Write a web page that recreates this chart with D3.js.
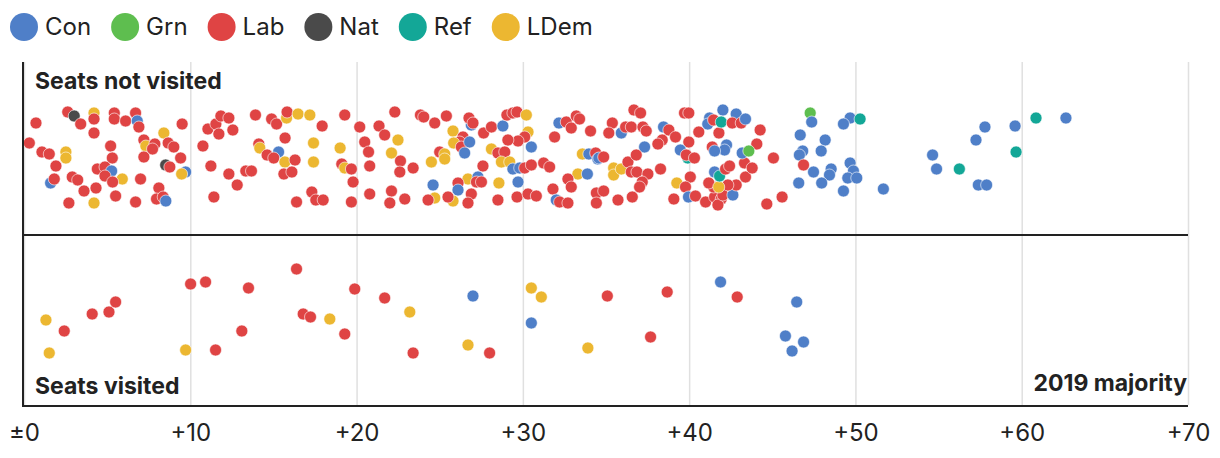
<!DOCTYPE html>
<html><head><meta charset="utf-8">
<script src="https://cdn.jsdelivr.net/npm/d3@7"></script>
<style>
html,body{margin:0;padding:0;background:#fff;}
svg{display:block;font-family:Inter,"Noto Sans",sans-serif;}
</style></head><body>
<svg id="chart" width="1220" height="458"></svg>
<script>
const parties = ["Con","Grn","Lab","Nat","Ref","LDem"];
const partyColors = ["#4f7fc8","#5ebe4f","#df4444","#4a4a4a","#13a797","#ecb731"];
const tickValues = [0,10,20,30,40,50,60,70];
const tickLabels = ["±0","+10","+20","+30","+40","+50","+60","+70"];
const bandLabels = ["Seats not visited","Seats visited"];
const axisTitle = "2019 majority";

// [party, 2019 majority (pts), vertical jitter 0-1]
const notVisited = [
["Lab",0.72,0.15],["Lab",2.63,0.04],["Nat",3.02,0.08],["LDem",4.21,0.05],["Lab",4.21,0.11],["Lab",3.41,0.16],
["Lab",5.43,0.05],["Lab",5.43,0.11],["Lab",6.11,0.13],["Lab",6.71,0.05],["Con",6.81,0.13],["Lab",6.91,0.19],
["Lab",9.51,0.16],["Lab",4.21,0.25],["Lab",0.32,0.35],["LDem",8.41,0.25],["Lab",7.21,0.32],["LDem",7.33,0.38],
["Lab",7.87,0.36],["Lab",7.73,0.41],["Lab",8.67,0.35],["Lab",9.01,0.39],["Lab",5.21,0.38],["Lab",1.08,0.44],
["Lab",1.52,0.46],["LDem",2.52,0.44],["LDem",2.52,0.50],["Lab",7.21,0.49],["Lab",5.31,0.50],["Lab",9.42,0.50],
["Lab",1.92,0.58],["Nat",8.52,0.57],["Lab",8.77,0.59],["Con",9.72,0.64],["LDem",9.48,0.66],["Lab",4.41,0.61],
["Lab",4.87,0.59],["Con",5.27,0.63],["Lab",4.87,0.68],["LDem",5.91,0.71],["Lab",5.33,0.74],["Con",1.60,0.75],
["Lab",1.82,0.71],["Lab",2.90,0.69],["Lab",3.23,0.72],["Lab",7.01,0.71],["Lab",3.61,0.83],["Lab",4.33,0.80],
["Lab",8.11,0.80],["Lab",5.51,0.88],["Lab",7.97,0.91],["Lab",8.37,0.89],["Con",8.53,0.93],["Lab",2.70,0.95],
["LDem",4.21,0.95],["Lab",6.71,0.94],
["Lab",11.06,0.21],["Lab",11.54,0.16],["Lab",11.84,0.08],["Lab",12.32,0.10],["Lab",12.56,0.22],["Lab",11.72,0.26],
["Lab",10.76,0.38],["Lab",11.24,0.58],["Lab",11.42,0.89],
["Lab",13.92,0.07],["Lab",14.89,0.11],["Lab",15.19,0.16],["LDem",15.79,0.10],["Lab",15.82,0.04],["LDem",16.48,0.06],
["LDem",17.19,0.07],["Lab",17.93,0.18],["Lab",19.29,0.07],["Lab",22.30,0.04],["Lab",20.19,0.19],["Lab",21.35,0.18],
["Lab",21.69,0.27],["LDem",22.49,0.32],["Lab",20.49,0.34],["Lab",20.72,0.44],["LDem",22.10,0.45],["Lab",22.64,0.53],
["Lab",22.60,0.64],["Lab",20.79,0.58],["Lab",15.70,0.30],["Lab",14.12,0.36],["LDem",14.18,0.40],["Con",15.31,0.44],
["Lab",14.62,0.47],["Lab",15.02,0.50],["LDem",15.69,0.54],["Lab",16.30,0.52],["LDem",17.41,0.35],["LDem",17.41,0.54],
["LDem",19.01,0.40],["Lab",19.11,0.56],["LDem",19.29,0.60],["Lab",19.69,0.61],["Lab",19.79,0.74],["Lab",12.32,0.66],
["Lab",12.82,0.77],["Lab",13.34,0.63],["Lab",13.68,0.63],["Lab",15.63,0.66],["Lab",16.11,0.64],["Lab",16.39,0.94],
["Lab",17.31,0.84],["Lab",17.55,0.92],["Lab",17.99,0.92],["Lab",19.69,0.94],["Lab",20.79,0.86],["Lab",22.10,0.83],
["Lab",22.00,0.95],["Lab",22.90,0.91],
["Lab",23.84,0.07],["Lab",24.04,0.09],["Lab",24.70,0.15],["Lab",25.40,0.08],["LDem",25.80,0.23],["Con",26.90,0.17],
["Lab",26.76,0.10],["Lab",27.00,0.15],["Lab",26.40,0.29],["Lab",26.20,0.34],["LDem",25.84,0.35],["Lab",26.30,0.39],
["Con",26.80,0.34],["Con",26.50,0.45],["Lab",27.64,0.25],["Lab",28.11,0.19],["Con",28.80,0.18],["Lab",29.04,0.07],
["Lab",29.40,0.05],["Lab",29.65,0.04],["LDem",30.21,0.07],["LDem",30.31,0.24],["Lab",30.11,0.29],["Lab",29.71,0.33],
["Lab",29.10,0.32],["Con",30.51,0.39],["Lab",25.00,0.44],["LDem",25.30,0.46],["LDem",25.30,0.51],["LDem",24.50,0.54],
["Lab",23.40,0.60],["LDem",28.11,0.41],["Lab",28.50,0.45],["Lab",28.91,0.44],["LDem",28.71,0.54],["LDem",29.21,0.54],
["Lab",27.60,0.58],["Con",29.40,0.61],["Con",29.81,0.60],["Lab",30.11,0.60],["Lab",30.51,0.57],["Lab",31.25,0.55],
["Lab",31.61,0.59],["Lab",31.91,0.29],["Con",32.17,0.15],["Lab",32.61,0.14],["Lab",32.91,0.20],["Lab",33.21,0.08],
["Lab",33.41,0.11],["Lab",34.07,0.23],["LDem",33.58,0.46],["Con",33.97,0.46],["Lab",34.38,0.45],["Con",34.51,0.51],
["LDem",33.31,0.66],["Con",33.88,0.66],["Lab",32.71,0.71],["Lab",32.91,0.79],["Lab",31.81,0.81],["Con",24.60,0.77],
["LDem",26.70,0.71],["Con",27.30,0.69],["Lab",27.21,0.74],["Lab",27.51,0.74],["Lab",26.10,0.75],["Con",26.10,0.82],
["Lab",26.90,0.86],["Lab",26.70,0.95],["LDem",25.80,0.93],["Lab",25.50,0.89],["LDem",24.70,0.90],["Lab",24.30,0.92],
["LDem",28.56,0.75],["Con",29.71,0.74],["Lab",28.50,0.92],["Lab",29.65,0.89],["Lab",30.31,0.86],["Lab",30.81,0.88],
["Con",32.01,0.92],["Lab",32.21,0.94],["Lab",32.71,0.95],["Lab",34.42,0.85],["Lab",34.42,0.95],
["Lab",35.38,0.15],["Lab",35.17,0.25],["Con",35.92,0.25],["Lab",36.18,0.19],["Lab",36.52,0.19],["Lab",36.68,0.02],
["Lab",37.08,0.05],["Lab",37.22,0.19],["Lab",37.42,0.23],["Con",38.46,0.19],["Lab",38.78,0.22],["Lab",39.18,0.29],
["Lab",38.38,0.32],["Lab",38.12,0.36],["Con",37.32,0.39],["Lab",39.72,0.05],["Lab",39.98,0.05],["Lab",40.58,0.24],
["Lab",39.98,0.34],["Con",34.57,0.50],["Lab",34.86,0.49],["LDem",35.46,0.60],["LDem",35.46,0.67],["LDem",35.92,0.61],
["Lab",36.32,0.54],["Lab",36.82,0.47],["Lab",36.52,0.64],["Lab",36.86,0.64],["Lab",37.52,0.66],["Lab",37.18,0.74],
["Lab",37.02,0.79],["Lab",38.28,0.61],["LDem",39.26,0.75],["Lab",34.86,0.83],["Lab",35.72,0.92],["Lab",36.58,0.89],
["Lab",39.08,0.91],["Con",39.47,0.42],["Ref",39.92,0.50],["Lab",39.83,0.47],["Lab",40.32,0.50],["Lab",40.07,0.69],
["Lab",39.78,0.79],["Con",39.96,0.89],["Lab",40.38,0.88],["Lab",40.99,0.94],["Lab",41.53,0.89],["Lab",41.93,0.91],
["Lab",41.73,0.97],["Lab",42.03,0.87],["Con",42.63,0.87],["Lab",42.83,0.77],["Lab",42.33,0.77],["Lab",41.47,0.79],
["Lab",41.18,0.75],["LDem",41.78,0.79],["Con",41.53,0.64],["Ref",41.83,0.68],["Lab",42.19,0.61],["Lab",42.43,0.58],
["Lab",43.39,0.69],["Lab",43.33,0.55],["Lab",43.79,0.60],["Lab",44.67,0.96],["Lab",45.59,0.89],["Lab",45.07,0.50],
["Lab",44.07,0.36],["Con",43.19,0.45],["Grn",43.59,0.43],["Con",42.25,0.37],["Con",42.13,0.42],["Lab",41.39,0.39],
["Con",41.53,0.43],["Lab",41.79,0.25],["Lab",44.27,0.22],["Con",42.03,0.02],["Con",41.23,0.10],["Con",41.12,0.16],
["Lab",41.47,0.12],["Ref",41.93,0.14],["Con",42.83,0.06],["Lab",42.59,0.15],["Lab",43.13,0.15],["Con",43.39,0.11],
["Grn",47.28,0.05],["Con",47.37,0.14],["Con",46.68,0.27],["Con",48.18,0.32],["Con",47.94,0.43],["Con",46.83,0.43],
["Con",46.63,0.47],["Lab",46.88,0.57],["Con",47.48,0.64],["Con",48.54,0.61],["Con",48.44,0.67],["Con",46.59,0.75],
["Con",47.97,0.75],["Con",49.68,0.55],["Con",49.88,0.63],["Con",49.54,0.70],["Con",50.08,0.70],["Con",49.28,0.83],
["Con",51.68,0.81],["Con",49.68,0.10],["Con",49.28,0.16],["Ref",50.28,0.11],["Con",54.64,0.47],["Con",54.88,0.61],
["Ref",56.25,0.61],["Con",57.25,0.32],["Con",57.39,0.77],["Con",57.89,0.77],["Con",57.79,0.19],["Con",59.60,0.18],
["Ref",60.86,0.10],["Con",62.66,0.10],["Ref",59.66,0.44]
];

const visited = [
["LDem",1.32,0.55],["LDem",1.52,0.88],["Lab",2.42,0.66],["Lab",4.10,0.49],["Lab",5.11,0.47],["Lab",5.51,0.37],
["LDem",9.72,0.85],["Lab",10.02,0.19],["Lab",10.92,0.17],["Lab",11.52,0.85],["Lab",13.10,0.66],["Lab",13.50,0.23],
["Lab",16.39,0.04],["Lab",16.79,0.49],["Lab",17.23,0.52],["LDem",18.39,0.54],["Lab",19.29,0.69],["Lab",19.89,0.24],
["Lab",21.69,0.33],["LDem",23.20,0.47],["Lab",23.40,0.88],["Con",27.00,0.31],["LDem",26.70,0.80],["Lab",28.00,0.88],
["LDem",30.51,0.23],["LDem",31.11,0.32],["Con",30.51,0.58],["LDem",33.91,0.83],["Lab",35.08,0.31],["Lab",38.68,0.27],
["Lab",37.68,0.72],["Con",41.89,0.17],["Lab",42.89,0.32],["Con",46.47,0.37],["Con",45.79,0.71],["Con",46.88,0.77],
["Con",46.19,0.86]
];

const svg = d3.select("#chart");
const color = d3.scaleOrdinal(parties, partyColors);
const x = d3.scaleLinear([0,70],[24,1188]);
const yTop = d3.scaleLinear([0,1],[108,208]);
const yBot = d3.scaleLinear([0,1],[265,365]);
const plotTop = 62, mid = 235, plotBottom = 405;

// legend
const leg = svg.append("g").attr("transform","translate(0,27)");
let lx = 10;
parties.forEach((p,i)=>{
  const g = leg.append("g");
  g.append("circle").attr("cx",lx+14).attr("cy",0).attr("r",14).attr("fill",color(p));
  const t = g.append("text").attr("x",lx+35).attr("y",0).attr("dy","0.35em")
    .attr("font-size",24).attr("fill","#222").text(p);
  lx = lx + 35 + t.node().getComputedTextLength() + 20;
});

// gridlines + tick labels
const grid = svg.append("g")
  .attr("transform",`translate(0,${plotBottom})`)
  .call(d3.axisBottom(x).tickValues(tickValues).tickSize(-(plotBottom-plotTop)).tickFormat((d,i)=>tickLabels[i]));
grid.select(".domain").remove();
grid.selectAll(".tick line").attr("stroke","#e0e0e0").attr("stroke-width",1.5);
grid.selectAll(".tick text").attr("font-size",24).attr("fill","#222").attr("y",36).attr("dy",0)
  .attr("font-family","Inter, 'Noto Sans', sans-serif");

// dots
const dotsTop = svg.append("g");
dotsTop.selectAll("circle").data(notVisited).join("circle")
  .attr("cx",d=>x(d[1])).attr("cy",d=>yTop(d[2])).attr("r",6)
  .attr("fill",d=>color(d[0])).attr("stroke","#fff").attr("stroke-width",0.6);
const dotsBot = svg.append("g");
dotsBot.selectAll("circle").data(visited).join("circle")
  .attr("cx",d=>x(d[1])).attr("cy",d=>yBot(d[2])).attr("r",6)
  .attr("fill",d=>color(d[0])).attr("stroke","#fff").attr("stroke-width",0.6);

// frame lines
svg.append("line").attr("x1",x(0)-1).attr("x2",x(0)-1).attr("y1",plotTop).attr("y2",plotBottom+1)
  .attr("stroke","#222").attr("stroke-width",2);
svg.append("line").attr("x1",x(0)-2).attr("x2",x(70)).attr("y1",mid).attr("y2",mid)
  .attr("stroke","#222").attr("stroke-width",2);
svg.append("line").attr("x1",x(0)-2).attr("x2",x(70)).attr("y1",plotBottom+1).attr("y2",plotBottom+1)
  .attr("stroke","#222").attr("stroke-width",2);

// labels
svg.append("text").attr("x",35).attr("y",89).attr("font-size",23).attr("font-weight",700).attr("fill","#222").text(bandLabels[0]);
svg.append("text").attr("x",35).attr("y",394).attr("font-size",23).attr("font-weight",700).attr("fill","#222").text(bandLabels[1]);
svg.append("text").attr("x",x(70)-1).attr("y",391).attr("text-anchor","end").attr("font-size",23).attr("font-weight",700).attr("fill","#222").text(axisTitle);
</script>
</body></html>
